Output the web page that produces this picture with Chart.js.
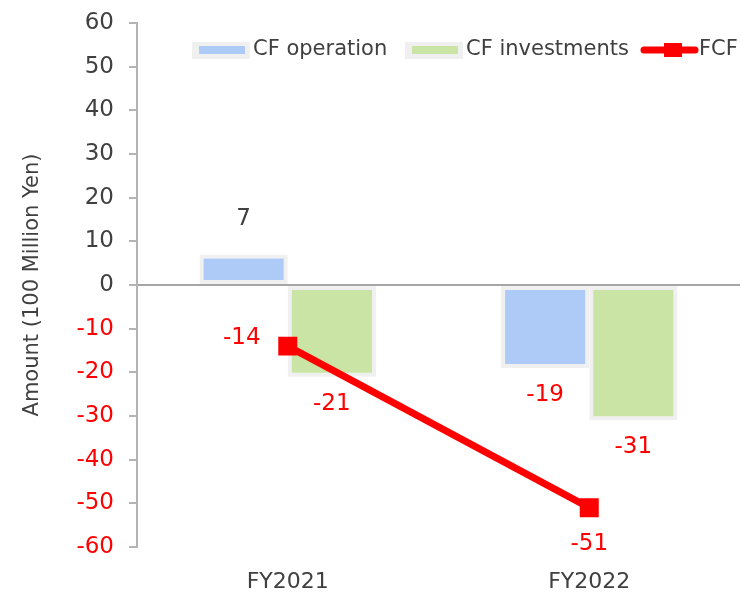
<!DOCTYPE html>
<html>
<head>
<meta charset="utf-8">
<script src="https://cdn.jsdelivr.net/npm/chart.js@4/dist/chart.umd.min.js"></script>
<style>
  html, body { margin: 0; padding: 0; background: #fff; }
  #wrap { width: 740px; height: 594px; }
</style>
</head>
<body>
<div id="wrap"><canvas id="cf" width="740" height="594"></canvas></div>
<script>
// values (100 million yen)
const years = ['FY2021', 'FY2022'];
const cfOperation = [7, -19];
const cfInvestments = [-21, -31];
const fcf = [-14, -51];
const seriesNames = ['CF operation', 'CF investments', 'FCF'];
const yMin = -60, yMax = 60, yStep = 10;

const FONT = '"DejaVu Sans", sans-serif';
const GREY_TXT = '#404040';
const RED = '#ff0000';
const BLUE = '#aecbf7';
const GREEN = '#c9e4a4';
const GLOW = '#f0f0f0';

// data labels (Excel style)
const valueLabels = {
  id: 'valueLabels',
  afterDatasetsDraw(chart, args, opts) {
    const ctx = chart.ctx;
    ctx.save();
    ctx.font = '23px ' + FONT;
    ctx.textAlign = 'center';
    ctx.textBaseline = 'middle';
    chart.data.datasets.forEach((ds, i) => {
      const meta = chart.getDatasetMeta(i);
      meta.data.forEach((el, j) => {
        const v = ds.data[j];
        ctx.fillStyle = v < 0 ? RED : GREY_TXT;
        let x = el.x, y;
        if (ds.type === 'line') {
          if (opts.linePos[j] === 'left') { x -= 46; y = el.y - 8; }
          else { y = el.y + 36; }
        } else {
          y = v >= 0 ? Math.min(el.y, el.base) - 35 : Math.max(el.y, el.base) + 27;
        }
        ctx.fillText(String(v), x, y);
      });
    });
    ctx.restore();
  }
};

// legend drawn inside the plot, top right
const topLegend = {
  id: 'topLegend',
  afterDraw(chart, args, opts) {
    const ctx = chart.ctx;
    ctx.save();
    ctx.font = '21px ' + FONT;
    ctx.textBaseline = 'middle';
    ctx.textAlign = 'left';
    const cy = opts.y;
    chart.data.datasets.forEach((ds, i) => {
      const x = opts.xs[i];
      if (ds.type === 'line') {
        ctx.strokeStyle = ds.borderColor;
        ctx.lineWidth = 7;
        ctx.lineCap = 'round';
        ctx.beginPath(); ctx.moveTo(x + 4, cy); ctx.lineTo(x + 55, cy); ctx.stroke();
        ctx.fillStyle = ds.borderColor;
        ctx.fillRect(x + 24, cy - 7, 18, 14);
        ctx.fillStyle = GREY_TXT;
        ctx.fillText(ds.label, x + 59, cy);
      } else {
        ctx.fillStyle = GLOW;
        ctx.fillRect(x, cy - 8, 58, 17);
        ctx.fillStyle = ds.backgroundColor;
        ctx.fillRect(x + 7, cy - 4, 46, 8);
        ctx.fillStyle = GREY_TXT;
        ctx.fillText(ds.label, x + 61, cy);
      }
    });
    ctx.restore();
  }
};

const barStyle = {
  borderColor: GLOW,
  borderWidth: 4,
  borderSkipped: false,
  barPercentage: 1,
  categoryPercentage: 0.585,
  order: 1
};

new Chart(document.getElementById('cf'), {
  type: 'bar',
  data: {
    labels: years,
    datasets: [
      Object.assign({ label: seriesNames[0], data: cfOperation, backgroundColor: BLUE }, barStyle),
      Object.assign({ label: seriesNames[1], data: cfInvestments, backgroundColor: GREEN }, barStyle),
      {
        type: 'line', label: seriesNames[2], data: fcf,
        borderColor: RED, backgroundColor: RED, borderWidth: 7,
        pointStyle: 'rect', pointRadius: 12, pointBorderWidth: 2,
        pointBackgroundColor: RED, pointBorderColor: RED,
        tension: 0, order: 0
      }
    ]
  },
  options: {
    responsive: false,
    animation: false,
    devicePixelRatio: 1,
    layout: { autoPadding: false, padding: { left: 20, top: 23, right: 0, bottom: 0 } },
    plugins: {
      legend: { display: false },
      tooltip: { enabled: false },
      valueLabels: { linePos: ['left', 'below'] },
      topLegend: { y: 50, xs: [192, 405, 640] }
    },
    scales: {
      x: {
        offset: true,
        grid: { display: false },
        border: { display: false },
        ticks: { color: GREY_TXT, font: { family: FONT, size: 22 }, padding: 14 },
        afterFit: s => { s.height = 47; s.paddingLeft = 0; s.paddingRight = 0; }
      },
      y: {
        min: yMin, max: yMax,
        afterFit: s => { s.width = 117; s.paddingTop = 0; s.paddingBottom = 0; },
        ticks: {
          stepSize: yStep,
          padding: 15,
          font: { family: FONT, size: 23 },
          color: c => c.tick.value < 0 ? RED : GREY_TXT
        },
        grid: {
          drawTicks: true,
          tickLength: 8,
          tickColor: '#b4b4b4',
          lineWidth: 2,
          color: c => c.tick && c.tick.value === 0 ? '#a6a6a6' : 'rgba(0,0,0,0)'
        },
        border: { display: true, color: '#b4b4b4', width: 2 },
        title: {
          display: true,
          text: 'Amount (100 Million Yen)',
          color: GREY_TXT,
          font: { family: FONT, size: 21 },
          padding: { top: 0, bottom: 35 }
        }
      }
    }
  },
  plugins: [valueLabels, topLegend]
});
</script>
</body>
</html>
